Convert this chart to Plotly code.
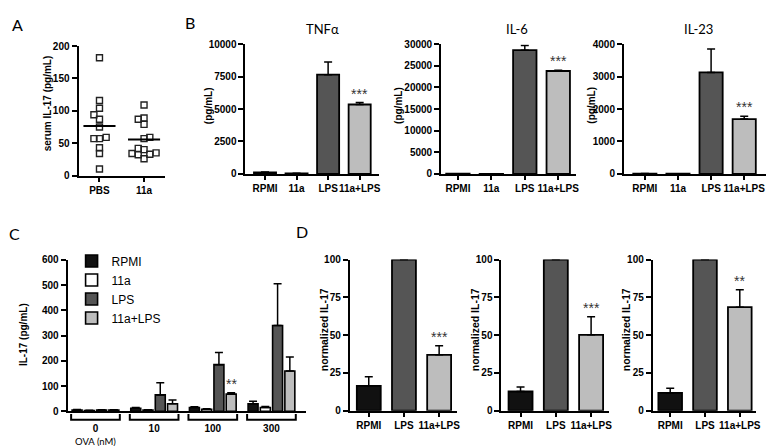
import plotly.graph_objects as go
import numpy as np

W, H = 774, 446

# ---------------- data ----------------
# Panel A: serum IL-17 (pg/mL)
a_groups = ["PBS", "11a"]
pbs_il17 = [182, 116, 104, 94, 87, 75, 59, 57, 57, 43, 34, 10]
a11_il17 = [109, 89, 87, 79, 59, 57, 42, 40, 35, 34, 33, 32, 26]
# horizontal spread of overlapping points (style only)
pbs_spread = [0, 0, 0, -0.125, 0, 0, 0.15, -0.125, 0, 0, 0, 0]
a11_spread = [0, 0, -0.13, 0, 0.13, 0, -0.13, 0, 0.27, -0.27, 0.13, -0.13, 0]

# Panel B: cytokines (pg/mL)
b_cats = ["RPMI", "11a", "LPS", "11a+LPS"]
tnf_vals = [110, 40, 7650, 5350]
tnf_err = [40, 10, 980, 150]
il6_vals = [30, 20, 28600, 23800]
il6_err = [0, 0, 1100, 150]
il23_vals = [10, 5, 3130, 1690]
il23_err = [0, 0, 720, 90]
b_titles = ["TNFα", "IL-6", "IL-23"]

# Panel C: IL-17 (pg/mL) vs OVA (nM)
ova_labels = ["0", "10", "100", "300"]
c_series = ["RPMI", "11a", "LPS", "11a+LPS"]
c_rpmi = [5, 12, 15, 30]
c_rpmi_err = [2, 3, 3, 10]
c_11a = [3, 5, 8, 15]
c_11a_err = [1, 1, 2, 4]
c_lps = [5, 65, 185, 340]
c_lps_err = [1, 48, 48, 165]
c_11alps = [5, 30, 68, 160]
c_11alps_err = [1, 15, 6, 55]

# Panel D: normalized IL-17
d_cats = ["RPMI", "LPS", "11a+LPS"]
d1_vals = [16.5, 100, 37]
d1_err = [6, 0, 6]
d2_vals = [12.7, 100, 50.2]
d2_err = [3, 0, 12]
d3_vals = [11.8, 100, 68.5]
d3_err = [3, 0, 11.5]

# ---------------- styles ----------------
col_b = ["#111111", "#ffffff", "#555555", "#bdbdbd"]
col_d = ["#111111", "#555555", "#bdbdbd"]
BOLD = dict(family="Liberation Sans, Arial", size=10, color="black", weight="bold")
LIGHT = "Lato, Liberation Sans, Arial"


def px_x(p):
    return p / W


def px_y(p):
    return 1 - p / H


fig = go.Figure()
layout = dict(width=W, height=H, margin=dict(l=0, r=0, t=0, b=0),
              paper_bgcolor="white", plot_bgcolor="white",
              barmode="group", showlegend=True)


def add_axes(i, xpx, ypx, xrange, yrange, dtick, xcat=True, xticks="outside"):
    xs = "xaxis" if i == 1 else f"xaxis{i}"
    ys = "yaxis" if i == 1 else f"yaxis{i}"
    xa = "x" if i == 1 else f"x{i}"
    ya = "y" if i == 1 else f"y{i}"
    layout[xs] = dict(domain=[px_x(xpx[0]), px_x(xpx[1])], anchor=ya, range=xrange,
                      showline=True, linecolor="black", linewidth=2,
                      ticks=xticks, ticklen=4, tickwidth=2, tickcolor="black",
                      tickfont=BOLD, showgrid=False, zeroline=False, tickangle=0,
                      type="category" if xcat else "linear", fixedrange=True)
    layout[ys] = dict(domain=[px_y(ypx[1]), px_y(ypx[0])], anchor=xa, range=yrange,
                      dtick=dtick, tick0=0, showline=True, linecolor="black", linewidth=2,
                      ticks="outside", ticklen=5, tickwidth=2, tickcolor="black",
                      tickfont=BOLD, showgrid=False, zeroline=False, tickformat="d",
                      fixedrange=True)
    return xa, ya


annotations = []
shapes = []


def ytitle(text, x, y, size=10):
    annotations.append(dict(text=text, x=px_x(x), y=px_y(y), xref="paper", yref="paper",
                            textangle=-90, showarrow=False, xanchor="center", yanchor="middle",
                            font=dict(family="Liberation Sans, Arial", size=size, weight="bold", color="black")))


def label(text, x, y, size, family=LIGHT):
    annotations.append(dict(text=text, x=px_x(x), y=px_y(y), xref="paper", yref="paper",
                            showarrow=False, xanchor="center", yanchor="middle",
                            font=dict(family=family, size=size, color="black")))


def stars(text, x, y, xa, ya):
    annotations.append(dict(text=text, x=x, y=y, xref=xa, yref=ya, showarrow=False,
                            xanchor="center", yanchor="bottom", yshift=-1,
                            font=dict(family="Liberation Sans, Arial", size=14, color="#333333")))


def err(arr):
    return dict(type="data", array=arr, arrayminus=[0] * len(arr), symmetric=False,
                color="black", thickness=1.5, width=4)


# ---------------- Panel A ----------------
xa, ya = add_axes(1, (71, 158), (33, 166), [-0.47, 1.47], [0, 200], 50, xcat=False)
layout["xaxis"].update(tickvals=[0, 1], ticktext=a_groups)
for gi, (vals, spread) in enumerate([(pbs_il17, pbs_spread), (a11_il17, a11_spread)]):
    fig.add_trace(go.Scatter(x=[gi + s for s in spread], y=vals, mode="markers",
                             marker=dict(symbol="square-open", size=6, color="#222222",
                                         line=dict(width=1.4)),
                             xaxis=xa, yaxis=ya, showlegend=False))
    m = float(np.mean(vals))
    fig.add_trace(go.Scatter(x=[gi - 0.36, gi + 0.36], y=[m, m], mode="lines",
                             line=dict(color="black", width=2), xaxis=xa, yaxis=ya,
                             showlegend=False))
ytitle("serum IL-17 (pg/mL)", 40, 92)
label("A", 10, 11, 16)

# ---------------- Panel B ----------------
b_specs = [
    (2, (239, 373), [-0.62, 3.6], [0, 10000], 2500, tnf_vals, tnf_err, 202, 317),
    (3, (436, 572), [-0.5, 3.54], [0, 30000], 5000, il6_vals, il6_err, 393, 512),
    (4, (620, 768), [-0.63, 3.81], [0, 4000], 1000, il23_vals, il23_err, 587, 695),
]
for (i, xpx, xr, yr, dt, vals, e, ylab_x, title_x), title in zip(b_specs, b_titles):
    xa, ya = add_axes(i, xpx, (31, 164.3), xr, yr, dt)
    fig.add_trace(go.Bar(x=b_cats, y=vals, width=0.7, error_y=err(e),
                         marker=dict(color=col_b, line=dict(color="black", width=1.8)),
                         xaxis=xa, yaxis=ya, showlegend=False))
    stars("***", b_cats[3], vals[3] + e[3], xa, ya)
    ytitle("(pg/mL)", ylab_x, 94)
    label(title, title_x, 15, 13)
label("B", 183, 9, 16)

# ---------------- Panel C ----------------
xa, ya = add_axes(5, (60, 300), (252.7, 408.3), [-0.475, 3.59], [0, 600], 100,
                  xcat=False, xticks="")
layout["xaxis5"].update(tickvals=list(range(len(ova_labels))), ticktext=ova_labels,
                        ticklabelstandoff=7)
slot = 0.209
bw = 0.17
c_data = [(c_rpmi, c_rpmi_err), (c_11a, c_11a_err), (c_lps, c_lps_err), (c_11alps, c_11alps_err)]
groups_x = list(range(len(ova_labels)))
for k, (name, (vals, e)) in enumerate(zip(c_series, c_data)):
    center = (k - 1.5) * slot
    fig.add_trace(go.Bar(x=groups_x, y=vals, name=name, width=bw, offset=center - bw / 2,
                         error_y=err(e),
                         marker=dict(color=col_b[k], line=dict(color="black", width=1.6)),
                         xaxis=xa, yaxis=ya, showlegend=True))
stars("**", 2 + 1.5 * slot, c_11alps[2] + c_11alps_err[2], xa, ya)
for g in groups_x:
    x0, x1 = g - 0.415, g + 0.415
    shapes.append(dict(type="path", xref=xa, yref="y5 domain",
                       path=f"M {x0},-0.018 L {x0},-0.056 L {x1},-0.056 L {x1},-0.018",
                       line=dict(color="black", width=2)))
ytitle("IL-17 (pg/mL)", 15, 329)
label("OVA (nM)", 88, 439, 9.5)
label("C", 7, 226, 16)
layout["legend"] = dict(x=px_x(64), y=px_y(249), xanchor="left", yanchor="top",
                        bgcolor="rgba(0,0,0,0)", tracegroupgap=0, itemwidth=30,
                        font=dict(family="Liberation Sans Narrow, Liberation Sans, Arial",
                                  size=12, color="black"))
layout["legend"]["y"] = px_y(239)

# ---------------- Panel D ----------------
d_specs = [
    (6, (344, 452), [-0.54, 2.51], d1_vals, d1_err, "***", 318),
    (7, (496.7, 605), [-0.54, 2.51], d2_vals, d2_err, "***", 470),
    (8, (649, 753), [-0.5, 2.47], d3_vals, d3_err, "**", 622),
]
for i, xpx, xr, vals, e, st, ylab_x in d_specs:
    xa, ya = add_axes(i, xpx, (252.3, 407.7), xr, [0, 100], 25)
    fig.add_trace(go.Bar(x=d_cats, y=vals, width=0.68, error_y=err(e),
                         marker=dict(color=col_d, line=dict(color="black", width=1.8)),
                         xaxis=xa, yaxis=ya, showlegend=False))
    stars(st, d_cats[2], vals[2] + e[2], xa, ya)
    ytitle("normalized IL-17", ylab_x, 324, 10.5)
label("D", 296, 224, 16)

layout["annotations"] = annotations
layout["shapes"] = shapes
fig.update_layout(**layout)
fig.write_html("out.html")
